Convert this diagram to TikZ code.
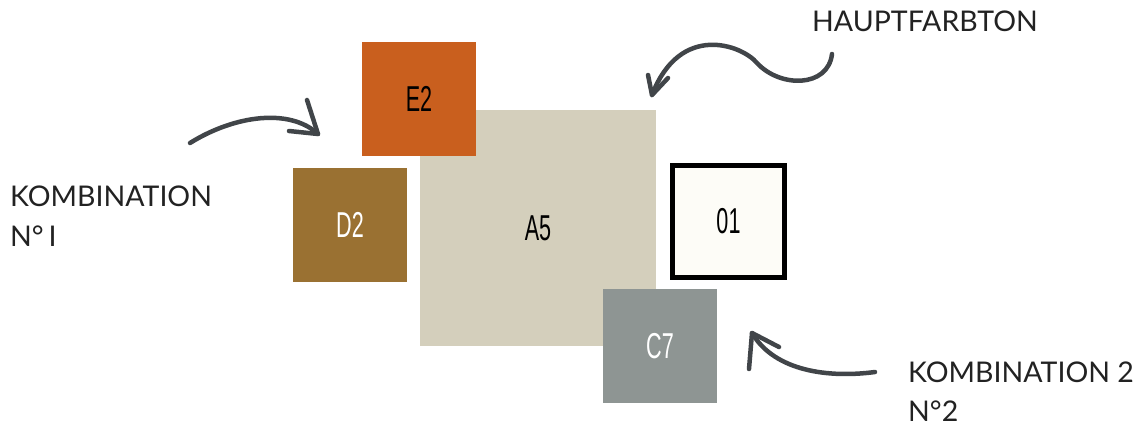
\documentclass[tikz,border=0pt]{standalone}
\usepackage{fontspec}
\setmainfont{Lato}
\newfontfamily\swatchfont{Liberation Sans}[FakeStretch=0.6]
\definecolor{rostE}{HTML}{C95F1E}
\definecolor{sandA}{HTML}{D4CFBC}
\definecolor{ockerD}{HTML}{9A7132}
\definecolor{weissO}{HTML}{FDFCF7}
\definecolor{grauC}{HTML}{8E9593}
\definecolor{pencil}{HTML}{414549}
\definecolor{captext}{HTML}{222222}

\begin{document}
\begin{tikzpicture}[x=1pt,y=-1pt,
  swatch/.style={draw=none,minimum size=114pt,inner sep=0pt,font=\swatchfont\fontsize{36}{36}\selectfont},
  caption/.style={anchor=base west,inner sep=0pt,text=captext,font=\fontsize{28.5}{34}\selectfont},
  scribble/.style={draw=pencil,line width=4.5pt,line cap=round,line join=round}]
\useasboundingbox (0,0) rectangle (1146,427);

% farbfelder
\node[swatch,fill=sandA,minimum size=236pt] (a5) at (538,228) {A5};
\node[swatch,fill=rostE] (e2) at (419,99) {E2};
\node[swatch,fill=grauC,text=white] (c7) at (660,346) {C7};
\node[swatch,fill=ockerD,text=white] (d2) at (350,225) {D2};
\node[swatch,fill=weissO,draw=black,line width=5pt,minimum size=112pt] (o1) at (728.5,221.5) {01};

% beschriftung
\node[caption] (haupt) at (812,32) {HAUPTFARBTON};
\node[caption] (komb1) at (10,207) {KOMBINATION};
\node[caption] (nr1) at (10,247) {N°\,I};
\node[caption] (komb2) at (908,383) {KOMBINATION 2};
\node[caption] (nr2) at (908,421) {N°2};

% pfeile
\coordinate (p1s) at (190,143);
\coordinate (p1t) at (318,134);
\draw[scribble] (p1s) .. controls (235,115) and (290,108) .. (p1t);
\draw[scribble] (307,100) -- (p1t) -- (289,131);

\coordinate (p2s) at (832,54);
\coordinate (p2m) at (757,63);
\coordinate (p2t) at (652,95);
\draw[scribble] (p2s) .. controls (828,88) and (780,88) .. (p2m)
  .. controls (742,45) and (680,22) .. (p2t);
\draw[scribble] (648,75) -- (p2t) -- (668,78);

\coordinate (p3s) at (875,372);
\coordinate (p3t) at (752,333);
\draw[scribble] (p3s) .. controls (830,378) and (775,372) .. (p3t);
\draw[scribble] (749,369) -- (p3t) -- (779,347);
\end{tikzpicture}
\end{document}
